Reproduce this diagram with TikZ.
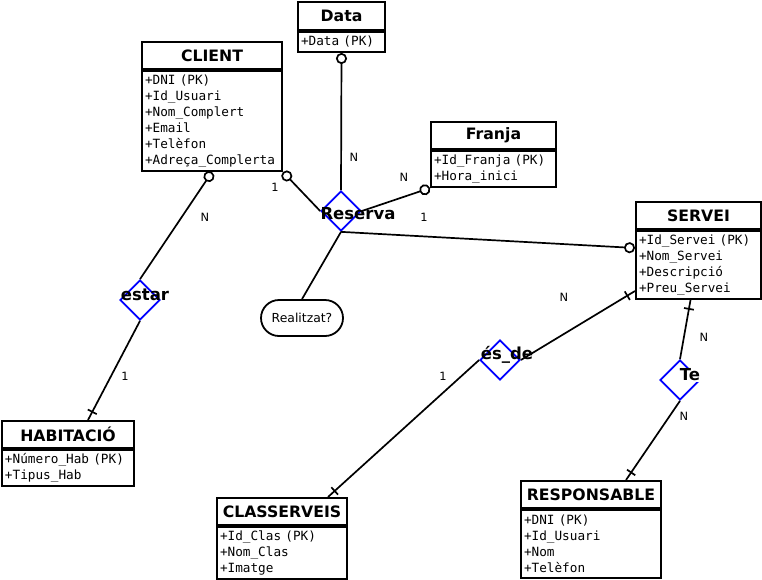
\documentclass[tikz,border=0pt]{standalone}
\usepackage{fontspec}
\setmainfont{DejaVu Sans}
\newfontfamily\monof{DejaVu Sans Mono}
\usetikzlibrary{shapes.geometric,arrows.meta,decorations.markings,calc}
\begin{document}
\begin{tikzpicture}[x=1pt,y=-1pt,
  hdr/.style={draw, line width=2pt, font=\fontsize{15.7}{18}\selectfont\bfseries, anchor=north west, inner sep=0pt},
  attrs/.style={draw, line width=2pt, font=\fontsize{12.7}{16}\selectfont\monof, anchor=north west, align=left, inner xsep=3pt, inner ysep=0pt},
  rel/.style={diamond, draw=blue, line width=1.7pt, minimum width=40pt, minimum height=40pt, inner sep=0pt},
  rlabel/.style={font=\fontsize{16.5}{18}\selectfont\bfseries, inner sep=1pt},
  card/.style={font=\fontsize{11.4}{13}\selectfont, inner sep=0pt},
  conn/.style={line width=1.7pt},
  zero/.style={-{Circle[open,length=11pt,width=11pt]}},
  onetick/.style={postaction={decorate}, decoration={markings, mark=at position #1 with {\draw[line width=1.7pt] (0pt,-5pt) -- (0pt,5pt);}}}
]
\useasboundingbox (0,0) rectangle (762,579);

% entities
\node[hdr, minimum width=87pt, minimum height=28pt] (datah) at (297,1) {Data};
\node[attrs, text width=81pt, minimum height=20pt] (datab) at (datah.south west) {+Data (PK)};

\node[hdr, minimum width=140pt, minimum height=27pt] (clienth) at (141,41) {CLIENT};
\node[attrs, text width=134pt, minimum height=100pt] (clientb) at (clienth.south west) {+DNI (PK)\\+Id\_Usuari\\+Nom\_Complert\\+Email\\+Telèfon\\+Adreça\_Complerta};

\node[hdr, minimum width=125pt, minimum height=27pt] (franjah) at (430,121) {Franja};
\node[attrs, text width=119pt, minimum height=36pt] (franjab) at (franjah.south west) {+Id\_Franja (PK)\\+Hora\_inici};

\node[hdr, minimum width=125pt, minimum height=27pt] (servh) at (635,201) {SERVEI};
\node[attrs, text width=119pt, minimum height=68pt] (servb) at (servh.south west) {+Id\_Servei (PK)\\+Nom\_Servei\\+Descripció\\+Preu\_Servei};

\node[hdr, minimum width=132pt, minimum height=27pt] (habh) at (1,420) {HABITACIÓ};
\node[attrs, text width=126pt, minimum height=36pt] (habb) at (habh.south west) {+Número\_Hab (PK)\\+Tipus\_Hab};

\node[hdr, minimum width=130pt, minimum height=27pt] (classh) at (216,497) {CLASSERVEIS};
\node[attrs, text width=124pt, minimum height=52pt] (classb) at (classh.south west) {+Id\_Clas (PK)\\+Nom\_Clas\\+Imatge};

\node[hdr, minimum width=140pt, minimum height=27pt] (resph) at (520,480) {RESPONSABLE};
\node[attrs, text width=134pt, minimum height=68pt] (respb) at (resph.south west) {+DNI (PK)\\+Id\_Usuari\\+Nom\\+Telèfon};

% relationships
\node[rel] (reserva) at (341,211) {};
\node[rel] (estar) at (140,300) {};
\node[rel] (esde) at (500,360) {};
\node[rel] (te) at (680,380) {};
\node[draw, line width=1.8pt, rounded corners=18pt, minimum width=82pt, minimum height=36pt, font=\fontsize{12.4}{14}\selectfont] (realitzat) at (302,318) {Realitzat?};

% connectors
\draw[conn, zero] (reserva.north) -- (datab.south);
\draw[conn, zero] (reserva.west) -- (clientb.south east);
\draw[conn, zero] (estar.north) -- (clientb.south);
\draw[conn, zero] (reserva.east) -- (franjab.south west);
\draw[conn, zero] (reserva.south) -- ([yshift=17pt]servb.west);
\draw[conn] (reserva.south) -- (realitzat.north);
\draw[conn, onetick=-9pt] (estar.south) -- ([xshift=20pt]habh.north);
\draw[conn, onetick=-9pt] (esde.east) -- ([yshift=-26pt]servb.west);
\draw[conn, onetick=-9pt] (esde.west) -- ([xshift=46pt]classh.north);
\draw[conn, onetick=9pt] ([xshift=-8pt]servb.south) -- (te.north);
\draw[conn, onetick=-9pt] (te.south) -- ([xshift=35pt]resph.north);

% relationship labels
\node[rlabel] (reservat) at (358,214) {Reserva};
\node[rlabel] (estart) at (145,295) {estar};
\node[rlabel] (esdet) at (507,355) {és\_de};
\node[rlabel, fill=white] (tet) at (690,375) {Te};

% cardinalities
\node[card] (c1) at (354,157) {N};
\node[card] (c2) at (275,187) {1};
\node[card] (c3) at (205,217) {N};
\node[card] (c4) at (404,177) {N};
\node[card] (c5) at (424,217) {1};
\node[card] (c6) at (125,376) {1};
\node[card] (c7) at (564,297) {N};
\node[card] (c8) at (443,376) {1};
\node[card] (c9) at (704,337) {N};
\node[card] (c10) at (684,416) {N};
\end{tikzpicture}
\end{document}
